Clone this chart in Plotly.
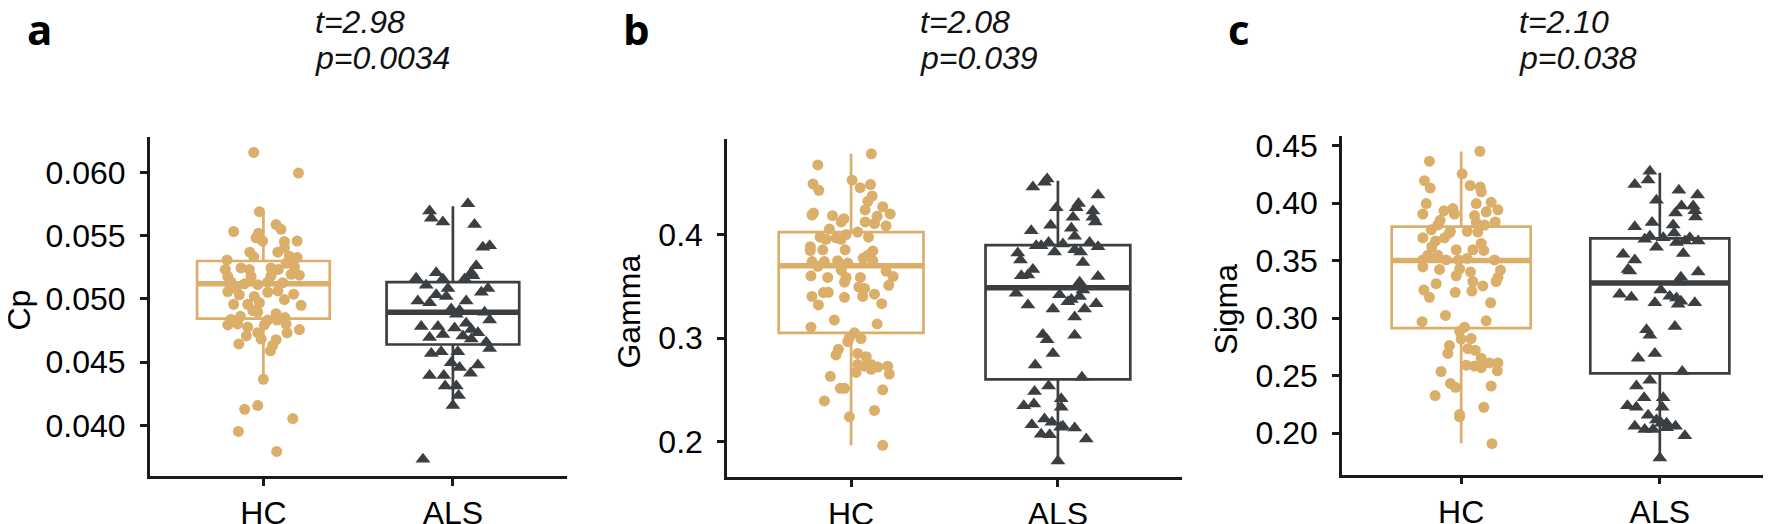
import plotly.graph_objects as go

W, H = 1771, 524
GROUPS = ["HC", "ALS"]
GROUP_POS = [1, 2]
HC_COLOR = "#DBAE6A"
ALS_COLOR = "#3B3F42"
AXIS_COLOR = "#1C1A17"

# ---------------- Panel a : Cp ----------------
cp_hc = [0.06158, 0.05995, 0.0569, 0.05533, 0.05588, 0.0555, 0.0552, 0.05483, 0.05458, 0.05458,
         0.05453, 0.0537, 0.05333, 0.0537, 0.05403, 0.05338, 0.05328, 0.05308, 0.05233, 0.05245,
         0.05245, 0.05233, 0.05253, 0.05178, 0.05178, 0.05183, 0.05188, 0.05195, 0.05133, 0.0512,
         0.05113, 0.05133, 0.05128, 0.05058, 0.05083, 0.05063, 0.05038, 0.0502, 0.04958, 0.04958,
         0.0497, 0.0495, 0.04908, 0.04895, 0.04863, 0.04795, 0.04803, 0.04778, 0.04733, 0.04708,
         0.04833, 0.04833, 0.04853, 0.04803, 0.04733, 0.04758, 0.04795, 0.04645, 0.04678, 0.04633,
         0.0459, 0.04365, 0.04128, 0.04158, 0.04055, 0.03953, 0.03795, 0.05033, 0.05233, 0.0522,
         0.05283, 0.05053, 0.04883, 0.04838, 0.04995, 0.04683]
cp_hc_jit = [-0.051, 0.185, -0.021, -0.157, 0.067, 0.093, -0.026, -0.039, -0.004, 0.178,
             0.111, -0.072, -0.051, 0.076, 0.111, 0.137, 0.178, -0.192, -0.201, -0.118,
             0.040, 0.079, 0.164, -0.188, -0.065, 0.040, 0.190, 0.146, -0.171, -0.100,
             -0.030, 0.023, 0.102, -0.188, -0.144, 0.076, 0.160, -0.048, -0.157, -0.083,
             -0.021, 0.199, -0.056, -0.030, -0.121, -0.188, -0.136, -0.083, -0.030, -0.090,
             0.023, 0.072, 0.114, 0.120, 0.125, 0.190, 0.005, -0.130, 0.067, 0.049,
             0.037, 0.000, -0.099, -0.030, 0.155, -0.132, 0.070, -0.127, -0.074, 0.049,
             0.120, 0.023, 0.067, -0.171, 0.111, -0.012]
cp_als = [0.05695, 0.05638, 0.05608, 0.05753, 0.05588, 0.05408, 0.0542, 0.05263, 0.05208, 0.05208,
          0.05163, 0.05108, 0.05158, 0.05158, 0.05183, 0.05083, 0.05083, 0.05053, 0.04983, 0.0497,
          0.0502, 0.04983, 0.0492, 0.04908, 0.04895, 0.04833, 0.04783, 0.04783, 0.0477, 0.04808,
          0.04758, 0.04695, 0.0472, 0.04683, 0.04658, 0.04608, 0.0457, 0.04583, 0.04583, 0.04495,
          0.04458, 0.04478, 0.04395, 0.04395, 0.04413, 0.04313, 0.04313, 0.04238, 0.04158, 0.03733,
          0.04708, 0.05033, 0.0488, 0.04733]
cp_als_jit = [-0.123, -0.114, -0.053, 0.079, 0.114, 0.158, 0.194, 0.123, 0.097, -0.088,
              -0.194, -0.141, -0.053, 0.062, 0.106, 0.185, -0.026, 0.150, -0.185, -0.123,
              -0.035, 0.070, -0.009, 0.035, 0.167, 0.194, -0.167, -0.079, 0.009, 0.070,
              0.097, -0.123, -0.053, 0.097, 0.176, 0.194, -0.114, -0.062, 0.026, -0.009,
              0.035, 0.132, -0.123, -0.048, 0.093, -0.041, 0.018, 0.030, 0.000, -0.158,
              0.053, -0.088, 0.018, 0.132]
cp_q1 = [0.04845, 0.0464]
cp_median = [0.0512, 0.04895]
cp_q3 = [0.0530, 0.05133]
cp_lower = [0.04369, 0.04157]
cp_upper = [0.05696, 0.05733]
cp_ticks = [0.040, 0.045, 0.050, 0.055, 0.060]

# ---------------- Panel b : Gamma ----------------
gamma_hc = [0.4783, 0.4675, 0.4492, 0.4430, 0.4528, 0.4455, 0.4485, 0.4375, 0.4323, 0.4240,
            0.4271, 0.4201, 0.4210, 0.4191, 0.4185, 0.4155, 0.4124, 0.4124, 0.4109, 0.4179,
            0.4087, 0.4057, 0.4026, 0.3977, 0.3977, 0.3956, 0.3971, 0.3956, 0.4002, 0.3885,
            0.3855, 0.3855, 0.3842, 0.3802, 0.3848, 0.3741, 0.3741, 0.3750, 0.3726, 0.3772,
            0.3750, 0.3695, 0.3658, 0.3588, 0.3603, 0.3588, 0.3588, 0.3649, 0.3597, 0.3511,
            0.3542, 0.3481, 0.3441, 0.3444, 0.3404, 0.3395, 0.3496, 0.3426, 0.3404, 0.3322,
            0.3334, 0.3107, 0.3175, 0.3138, 0.3052, 0.3006, 0.2997, 0.2966, 0.2893, 0.2838,
            0.2853, 0.2822, 0.2746, 0.2730, 0.2700, 0.2721, 0.2730, 0.2654, 0.2669, 0.2632,
            0.2516, 0.2516, 0.2501, 0.2394, 0.2302, 0.2240, 0.1965, 0.2746]
gamma_hc_jit = [0.098, -0.161, -0.184, -0.156, 0.005, 0.044, 0.094, 0.102, 0.081, 0.068,
                0.153, 0.189, -0.182, -0.189, -0.090, -0.035, -0.048, 0.068, 0.113, 0.126,
                0.169, -0.105, 0.032, 0.084, -0.150, -0.121, -0.073, -0.048, -0.024, -0.197,
                -0.137, -0.029, 0.105, 0.081, -0.197, -0.189, -0.129, -0.065, -0.016, 0.058,
                0.105, -0.161, -0.048, -0.024, -0.194, -0.113, 0.045, 0.169, 0.203, 0.182,
                -0.032, 0.065, -0.134, -0.110, -0.189, -0.032, 0.037, 0.113, 0.056, -0.158,
                0.148, -0.194, -0.081, 0.126, 0.016, -0.008, 0.048, -0.016, -0.061, -0.073,
                0.032, 0.073, 0.032, 0.065, 0.097, 0.129, 0.177, 0.185, 0.024, -0.100,
                -0.052, -0.032, 0.153, -0.129, 0.113, -0.008, 0.153, 0.097]
gamma_als = [0.4461, 0.4507, 0.4538, 0.4384, 0.4262, 0.4302, 0.4262, 0.4231, 0.4170, 0.4124,
             0.4170, 0.4093, 0.4038, 0.4063, 0.3986, 0.3824, 0.3756, 0.3894, 0.3894, 0.3925,
             0.3833, 0.3910, 0.3855, 0.3833, 0.3925, 0.3885, 0.3732, 0.3665, 0.3603, 0.3610,
             0.3597, 0.3542, 0.3466, 0.3435, 0.3420, 0.3374, 0.3404, 0.3322, 0.3282, 0.3352,
             0.3282, 0.3334, 0.3205, 0.3037, 0.2985, 0.3028, 0.2853, 0.2740, 0.2623, 0.2538,
             0.2485, 0.2415, 0.2348, 0.2363, 0.2332, 0.2219, 0.2188, 0.2164, 0.2149, 0.2133,
             0.2072, 0.2066, 0.2026, 0.1812, 0.2139]
gamma_als_jit = [-0.121, -0.065, -0.052, 0.194, -0.008, 0.100, 0.089, 0.169, 0.169, 0.181,
                 0.073, -0.035, -0.129, 0.065, 0.081, -0.194, -0.181, -0.105, -0.081, -0.045,
                 -0.016, 0.024, 0.081, 0.110, 0.153, 0.194, 0.121, -0.121, -0.177, -0.145,
                 0.194, 0.105, 0.121, -0.202, 0.008, 0.065, 0.105, -0.145, -0.024, 0.048,
                 0.129, 0.185, 0.081, -0.073, -0.052, 0.081, -0.024, -0.110, 0.116, -0.045,
                 -0.113, 0.016, -0.165, -0.116, 0.016, -0.065, -0.029, -0.126, 0.024, 0.081,
                 -0.081, -0.040, 0.137, 0.000, 0.013]
gamma_q1 = [0.3052, 0.2602]
gamma_median = [0.3701, 0.3487]
gamma_q3 = [0.4026, 0.3900]
gamma_lower = [0.1965, 0.1796]
gamma_upper = [0.4783, 0.4522]
gamma_ticks = [0.2, 0.3, 0.4]

# ---------------- Panel c : Sigma ----------------
sigma_hc = [0.4451, 0.4365, 0.4255, 0.4195, 0.4131, 0.4153, 0.4139, 0.4098, 0.3996, 0.3996,
            0.4007, 0.3941, 0.3924, 0.3933, 0.3952, 0.3905, 0.3905, 0.3891, 0.3831, 0.3836,
            0.3850, 0.3809, 0.3809, 0.3767, 0.3754, 0.3754, 0.3748, 0.3698, 0.3698, 0.3671,
            0.3740, 0.3621, 0.3649, 0.3594, 0.3594, 0.3588, 0.3547, 0.3506, 0.3547, 0.3506,
            0.3506, 0.3519, 0.3506, 0.3445, 0.3423, 0.3428, 0.3401, 0.3417, 0.3368, 0.3354,
            0.3318, 0.3299, 0.3318, 0.3279, 0.3244, 0.3180, 0.3224, 0.3235, 0.3133, 0.3023,
            0.2968, 0.2976, 0.2921, 0.2885, 0.2816, 0.2822, 0.2761, 0.2692, 0.2734, 0.2720,
            0.2651, 0.2610, 0.2610, 0.2541, 0.2590, 0.2582, 0.2568, 0.2535, 0.2431, 0.2397,
            0.2408, 0.2326, 0.2224, 0.2160, 0.2141, 0.1907]
sigma_hc_jit = [0.094, -0.160, 0.005, -0.185, -0.156, 0.045, 0.096, 0.101, -0.176, 0.076,
                0.151, 0.185, 0.126, -0.087, -0.042, -0.193, -0.034, 0.067, 0.076, 0.171,
                -0.106, 0.118, -0.118, -0.151, -0.054, 0.030, 0.084, -0.193, -0.084, -0.129,
                -0.059, -0.148, 0.101, -0.025, 0.059, 0.114, -0.168, -0.193, -0.118, -0.076,
                -0.013, 0.030, 0.168, -0.193, -0.109, -0.008, 0.047, 0.198, -0.025, 0.185,
                0.176, -0.126, 0.059, 0.109, -0.188, -0.160, -0.030, 0.054, 0.148, -0.079,
                -0.197, 0.126, 0.017, -0.008, 0.000, 0.050, -0.059, -0.067, 0.034, 0.071,
                0.101, 0.143, 0.185, 0.182, 0.025, 0.067, 0.101, -0.101, -0.054, -0.029,
                0.151, -0.131, 0.114, -0.008, -0.008, 0.155]
sigma_als = [0.4277, 0.4200, 0.4162, 0.4024, 0.4112, 0.4071, 0.3974, 0.3974, 0.3933, 0.3878,
             0.3913, 0.3831, 0.3795, 0.3809, 0.3740, 0.3685, 0.3712, 0.3698, 0.3616, 0.3657,
             0.3671, 0.3698, 0.3671, 0.3561, 0.3555, 0.3506, 0.3423, 0.3409, 0.3401, 0.3354,
             0.3313, 0.3208, 0.3180, 0.3244, 0.3133, 0.3189, 0.3175, 0.3147, 0.3120, 0.3133,
             0.2927, 0.2899, 0.2850, 0.2651, 0.2692, 0.2535, 0.2458, 0.2408, 0.2307, 0.2307,
             0.2238, 0.2224, 0.2224, 0.2155, 0.2114, 0.2086, 0.2058, 0.2031, 0.2031, 0.2045,
             0.2058, 0.1976, 0.1783, 0.2086]
sigma_als_jit = [-0.050, -0.059, -0.126, -0.017, 0.096, 0.190, 0.109, 0.168, 0.176, 0.180,
                 0.079, -0.039, -0.126, 0.067, 0.072, -0.076, -0.050, 0.017, -0.017, 0.084,
                 0.126, 0.151, 0.193, 0.118, -0.185, -0.126, -0.160, -0.151, 0.193, 0.106,
                 0.092, -0.202, -0.143, 0.005, -0.025, 0.050, 0.084, 0.106, 0.092, 0.176,
                 0.076, -0.067, -0.050, -0.109, -0.025, 0.113, -0.050, -0.118, 0.017, -0.079,
                 -0.163, -0.118, 0.012, -0.059, -0.017, 0.034, -0.126, -0.076, -0.034, 0.034,
                 0.079, 0.126, 0.000, 0.008]
sigma_q1 = [0.2913, 0.2519]
sigma_median = [0.3500, 0.3304]
sigma_q3 = [0.3795, 0.3693]
sigma_lower = [0.1912, 0.1769]
sigma_upper = [0.4448, 0.4263]
sigma_ticks = [0.20, 0.25, 0.30, 0.35, 0.40, 0.45]

# ---------------- Annotations text ----------------
panel_letters = ["a", "b", "c"]
axis_titles = ["Cp", "Gamma", "Sigma"]
t_texts = ["t=2.98", "t=2.08", "t=2.10"]
p_texts = ["p=0.0034", "p=0.039", "p=0.038"]

# ---------------- Layout geometry (pixels) ----------------
panels = [
    dict(hc=cp_hc, hcj=cp_hc_jit, als=cp_als, alsj=cp_als_jit,
         q1=cp_q1, med=cp_median, q3=cp_q3, lo=cp_lower, hi=cp_upper,
         ticks=cp_ticks, fmt="{:.3f}", yr=[0.03599, 0.06282],
         box=(141.7, 558.6, 127.0, 484.3), letter_x=32, text_x=305, title_x=11, title_y=310),
    dict(hc=gamma_hc, hcj=gamma_hc_jit, als=gamma_als, alsj=gamma_als_jit,
         q1=gamma_q1, med=gamma_median, q3=gamma_q3, lo=gamma_lower, hi=gamma_upper,
         ticks=gamma_ticks, fmt="{:.1f}", yr=[0.1659, 0.4927],
         box=(719.0, 1174.0, 129.3, 485.0), letter_x=628, text_x=910, title_x=621, title_y=311),
    dict(hc=sigma_hc, hcj=sigma_hc_jit, als=sigma_als, alsj=sigma_als_jit,
         q1=sigma_q1, med=sigma_median, q3=sigma_q3, lo=sigma_lower, hi=sigma_upper,
         ticks=sigma_ticks, fmt="{:.2f}", yr=[0.1637, 0.4580],
         box=(1334.0, 1771.0, 126.7, 482.7), letter_x=1231, text_x=1509, title_x=1218, title_y=309),
]


def px(x):
    return x / W


def py(y):
    return 1 - y / H


BOX_W = 0.70
FONT = "Liberation Sans, Arial, sans-serif"
FS = 32
fig = go.Figure()
annotations = []
layout_axes = {}

for i, p in enumerate(panels):
    n = "" if i == 0 else str(i + 1)
    xa, ya = "x" + n, "y" + n
    colors = [HC_COLOR, ALS_COLOR]
    # boxes
    for g in range(2):
        fig.add_trace(go.Box(
            x=[GROUP_POS[g]], q1=[p["q1"][g]], median=[p["med"][g]], q3=[p["q3"][g]],
            lowerfence=[p["lo"][g]], upperfence=[p["hi"][g]],
            width=BOX_W, whiskerwidth=0, boxpoints=False,
            line=dict(color=colors[g], width=2.7), fillcolor="rgba(255,255,255,0)",
            xaxis=xa, yaxis=ya, showlegend=False, hoverinfo="skip"))
        fig.add_trace(go.Scatter(
            x=[GROUP_POS[g] - BOX_W / 2, GROUP_POS[g] + BOX_W / 2],
            y=[p["med"][g], p["med"][g]], mode="lines",
            line=dict(color=colors[g], width=5.5),
            xaxis=xa, yaxis=ya, showlegend=False, hoverinfo="skip"))
    # points
    fig.add_trace(go.Scatter(
        x=[GROUP_POS[0] + d for d in p["hcj"]], y=p["hc"], mode="markers",
        marker=dict(symbol="circle", size=11, color=HC_COLOR, line=dict(width=0)),
        xaxis=xa, yaxis=ya, showlegend=False))
    fig.add_trace(go.Scatter(
        x=[GROUP_POS[1] + d for d in p["alsj"]], y=p["als"], mode="markers",
        marker=dict(symbol="triangle-up", size=13, color=ALS_COLOR, line=dict(width=0)),
        xaxis=xa, yaxis=ya, showlegend=False))

    x0, x1, ytop, ybot = p["box"]
    layout_axes["xaxis" + n] = dict(
        domain=[px(x0), px(x1)], range=[0.4, 2.6], anchor=ya,
        tickvals=GROUP_POS, ticktext=GROUPS, showgrid=False, zeroline=False,
        showline=True, linecolor=AXIS_COLOR, linewidth=2.5,
        ticks="outside", ticklen=7, tickwidth=2.5, tickcolor=AXIS_COLOR,
        tickfont=dict(family=FONT, size=FS, color="black"), ticklabelstandoff=0)
    layout_axes["yaxis" + n] = dict(
        domain=[py(ybot), py(ytop)], range=p["yr"], anchor=xa,
        tickvals=p["ticks"], ticktext=[p["fmt"].format(t) for t in p["ticks"]],
        showgrid=False, zeroline=False,
        showline=True, linecolor=AXIS_COLOR, linewidth=2.5,
        ticks="outside", ticklen=7, tickwidth=2.5, tickcolor=AXIS_COLOR,
        tickfont=dict(family=FONT, size=FS, color="black"), ticklabelstandoff=8)

    annotations.append(dict(
        text="<b>" + panel_letters[i] + "</b>", x=px(p["letter_x"]), y=py(13),
        xref="paper", yref="paper", xanchor="center", yanchor="middle", showarrow=False,
        font=dict(family="Open Sans, sans-serif", size=42, color="black")))
    annotations.append(dict(
        text="<i>" + t_texts[i] + "</i>", x=px(p["text_x"]), y=py(6),
        xref="paper", yref="paper", xanchor="left", yanchor="middle", showarrow=False,
        font=dict(family=FONT, size=FS, color="#111111")))
    annotations.append(dict(
        text="<i>" + p_texts[i] + "</i>", x=px(p["text_x"]), y=py(44),
        xref="paper", yref="paper", xanchor="left", yanchor="middle", showarrow=False,
        font=dict(family=FONT, size=FS, color="#111111")))
    annotations.append(dict(
        text=axis_titles[i], x=px(p["title_x"]), y=py(p["title_y"]),
        xref="paper", yref="paper", xanchor="center", yanchor="middle", showarrow=False,
        textangle=-90, font=dict(family=FONT, size=FS, color="black")))

fig.update_layout(
    width=W, height=H, margin=dict(l=0, r=0, t=0, b=0),
    paper_bgcolor="white", plot_bgcolor="white",
    annotations=annotations, showlegend=False, **layout_axes)

fig.write_html("out.html")
